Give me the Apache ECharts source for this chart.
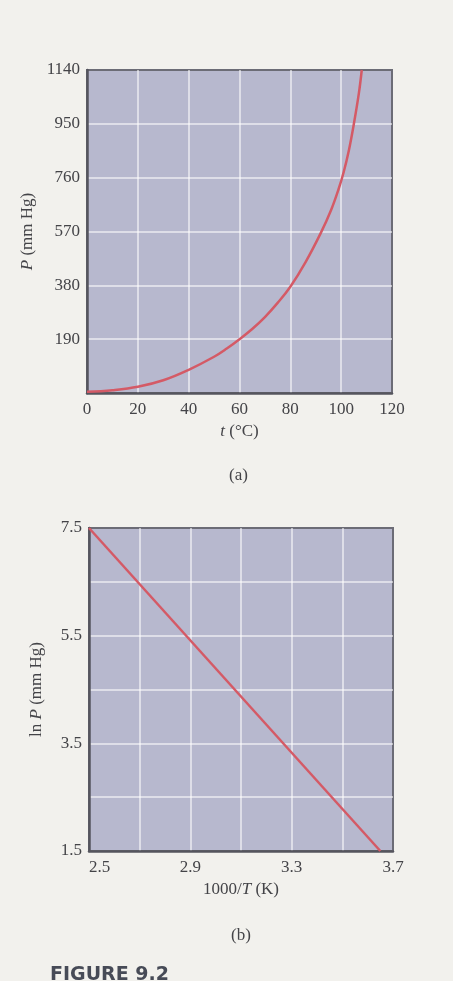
<!DOCTYPE html>
<html><head><meta charset="utf-8">
<script src="https://cdn.jsdelivr.net/npm/echarts@6/dist/echarts.min.js"></script>
<style>html,body{margin:0;padding:0;background:#f2f1ed;}#c{width:453px;height:981px;}</style>
</head><body><div id="c"></div>
<script>
// (a) vapor pressure vs temperature
const tempC    = [0, 10, 20, 30, 40, 50, 55, 60, 65, 70, 75, 80, 86, 92, 96, 99, 101, 103, 105, 107, 108.1];
const pressure = [4, 10, 22, 45, 82, 128, 157, 190, 226, 268, 318, 375, 462, 565, 645, 720, 780, 855, 950, 1060, 1140];
const xLabelsA = [0, 20, 40, 60, 80, 100, 120];
const yLabelsA = [190, 380, 570, 760, 950, 1140];
// (b) ln P vs 1000/T
const invT = [2.5, 3.65];
const lnP  = [7.5, 1.5];
const xLabelsB = ['2.5', '2.9', '3.3', '3.7'];
const yLabelsB = ['1.5', '3.5', '5.5', '7.5'];

const FONT = 'Liberation Serif';
const TXT = '#444448';
const GRIDBG = '#b7b8ce';
const BORDER = '#6c6c76';
const AXIS = '#55555e';
const SPLIT = 'rgba(255,255,255,0.72)';
const CURVE = '#d45a66';

function axisCommon() {
  return {
    type: 'value',
    axisLine: { show: true, onZero: false, lineStyle: { color: AXIS, width: 2.5 } },
    axisTick: { show: false },
    splitLine: { show: true, showMinLine: false, showMaxLine: false, lineStyle: { color: SPLIT, width: 1.5 } },
    nameLocation: 'middle',
    nameTextStyle: { color: TXT, fontFamily: FONT, fontSize: 17,
      rich: { i: { fontStyle: 'italic', color: TXT, fontFamily: FONT, fontSize: 17 } } }
  };
}

const chart = echarts.init(document.getElementById('c'), null, { renderer: 'canvas' });
chart.setOption({
  backgroundColor: '#f2f1ed',
  animation: false,
  grid: [
    { left: 87, top: 70, width: 305, height: 323, show: true, backgroundColor: GRIDBG, borderColor: BORDER, borderWidth: 2 },
    { left: 89, top: 528, width: 304, height: 323, show: true, backgroundColor: GRIDBG, borderColor: BORDER, borderWidth: 2 }
  ],
  xAxis: [
    Object.assign(axisCommon(), {
      gridIndex: 0, min: 0, max: 120, interval: 20,
      axisLabel: { color: TXT, fontFamily: FONT, fontSize: 17, margin: 8,
        formatter: v => xLabelsA.includes(Math.round(v)) ? String(Math.round(v)) : '' },
      name: '{i|t} (°C)', nameGap: 30
    }),
    Object.assign(axisCommon(), {
      gridIndex: 1, min: 2.5, max: 3.7, interval: 0.2,
      axisLabel: { color: TXT, fontFamily: FONT, fontSize: 17, margin: 8, alignMinLabel: 'left',
        formatter: v => { const s = (Math.round(v * 10) / 10).toFixed(1); return xLabelsB.includes(s) ? s : ''; } },
      name: '1000/{i|T} (K)', nameGap: 30
    })
  ],
  yAxis: [
    Object.assign(axisCommon(), {
      gridIndex: 0, min: 0, max: 1140, interval: 190,
      axisLabel: { color: TXT, fontFamily: FONT, fontSize: 17, margin: 7,
        formatter: v => yLabelsA.includes(Math.round(v)) ? String(Math.round(v)) : '' },
      name: '{i|P} (mm Hg)', nameGap: 38
    }),
    Object.assign(axisCommon(), {
      gridIndex: 1, min: 1.5, max: 7.5, interval: 1,
      axisLabel: { color: TXT, fontFamily: FONT, fontSize: 17, margin: 7,
        formatter: v => { const s = (Math.round(v * 10) / 10).toFixed(1); return yLabelsB.includes(s) ? s : ''; } },
      name: 'ln {i|P} (mm Hg)', nameGap: 44
    })
  ],
  series: [
    { type: 'line', xAxisIndex: 0, yAxisIndex: 0, smooth: 0.4, showSymbol: false, clip: true,
      data: tempC.map((t, i) => [t, pressure[i]]),
      lineStyle: { color: CURVE, width: 2.5 } },
    { type: 'line', xAxisIndex: 1, yAxisIndex: 1, showSymbol: false, clip: true,
      data: invT.map((x, i) => [x, lnP[i]]),
      lineStyle: { color: CURVE, width: 2.5 } }
  ],
  graphic: [
    { type: 'text', left: 229, top: 467, style: { text: '(a)', fill: TXT, font: '17px "Liberation Serif"' } },
    { type: 'text', left: 231, top: 927, style: { text: '(b)', fill: TXT, font: '17px "Liberation Serif"' } },
    { type: 'text', left: 50, top: 966, style: { text: 'FIGURE 9.2', fill: '#474b57', font: 'bold 19px "DejaVu Sans"' } }
  ]
});
</script></body></html>
